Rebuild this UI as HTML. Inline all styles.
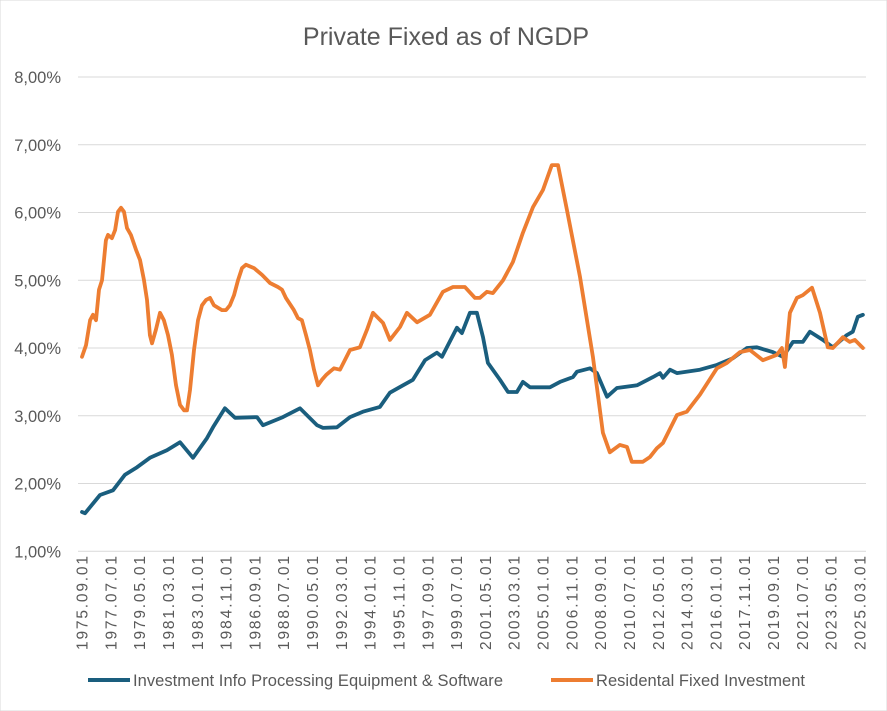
<!DOCTYPE html>
<html><head><meta charset="utf-8">
<style>
body{margin:0;background:#fff;}
svg{display:block;font-family:"Liberation Sans",sans-serif;}
</style></head>
<body>
<svg id="chart" width="887" height="711">
<rect x="0" y="0" width="887" height="711" fill="#fff" stroke="#d9d9d9"/>
<text x="446" y="45" text-anchor="middle" font-size="25" fill="#595959">Private Fixed as of  NGDP</text>
<g id="grid"></g><g id="yticks"></g><g id="xticks"></g><g id="series"></g>
<g>
<line x1="88" y1="680" x2="130" y2="680" stroke="#1a5e7e" stroke-width="4"/>
<text x="133" y="686" font-size="16.5" textLength="370" fill="#595959">Investment Info Processing Equipment &amp; Software</text>
<line x1="551" y1="680" x2="593" y2="680" stroke="#ed7d31" stroke-width="4"/>
<text x="596" y="686" font-size="16.5" textLength="209" fill="#595959">Residental Fixed Investment</text>
</g>
</svg>
<script>
const yTicks=[1,2,3,4,5,6,7,8];
const xTickLabels=["1975.09.01","1977.07.01","1979.05.01","1981.03.01","1983.01.01","1984.11.01","1986.09.01","1988.07.01","1990.05.01","1992.03.01","1994.01.01","1995.11.01","1997.09.01","1999.07.01","2001.05.01","2003.03.01","2005.01.01","2006.11.01","2008.09.01","2010.07.01","2012.05.01","2014.03.01","2016.01.01","2017.11.01","2019.09.01","2021.07.01","2023.05.01","2025.03.01"];
const resDates=[1975.67,1975.92,1976.18,1976.37,1976.56,1976.75,1976.94,1977.19,1977.32,1977.57,1977.77,1977.96,1978.15,1978.34,1978.53,1978.78,1979.10,1979.36,1979.61,1979.80,1979.99,1980.12,1980.37,1980.63,1980.88,1981.14,1981.39,1981.65,1981.90,1982.16,1982.35,1982.54,1982.79,1983.05,1983.30,1983.56,1983.81,1984.06,1984.57,1984.83,1985.08,1985.34,1985.59,1985.85,1986.10,1986.61,1987.12,1987.63,1988.13,1988.39,1988.64,1989.15,1989.41,1989.66,1989.92,1990.17,1990.43,1990.68,1990.93,1991.19,1991.44,1991.70,1992.08,1992.72,1993.35,1993.80,1994.18,1994.82,1995.26,1995.90,1996.34,1996.98,1997.80,1998.63,1999.27,2000.03,2000.67,2000.98,2001.43,2001.81,2002.45,2003.08,2003.72,2004.36,2004.99,2005.56,2005.95,2006.52,2007.35,2008.17,2008.81,2009.25,2009.89,2010.34,2010.65,2011.35,2011.80,2012.24,2012.63,2013.52,2014.15,2014.98,2016.06,2016.70,2017.53,2018.16,2018.99,2019.88,2020.20,2020.39,2020.71,2021.15,2021.53,2022.11,2022.62,2023.12,2023.44,2024.08,2024.52,2024.84,2025.35];
const resValues=[3.87,4.04,4.41,4.49,4.41,4.86,5.00,5.59,5.67,5.62,5.74,6.01,6.07,6.01,5.77,5.67,5.45,5.30,5.00,4.71,4.19,4.07,4.27,4.52,4.41,4.19,3.90,3.45,3.16,3.08,3.08,3.38,3.97,4.41,4.63,4.71,4.74,4.63,4.56,4.56,4.63,4.78,5.00,5.18,5.23,5.18,5.08,4.96,4.90,4.86,4.74,4.56,4.44,4.41,4.19,3.97,3.68,3.45,3.53,3.60,3.65,3.70,3.68,3.97,4.01,4.27,4.52,4.37,4.12,4.31,4.52,4.38,4.49,4.83,4.90,4.90,4.74,4.74,4.83,4.81,5.00,5.27,5.70,6.08,6.33,6.70,6.70,6.04,5.05,3.87,2.75,2.46,2.57,2.54,2.32,2.32,2.39,2.52,2.60,3.01,3.06,3.31,3.70,3.78,3.94,3.97,3.82,3.90,4.00,3.72,4.52,4.74,4.78,4.89,4.52,4.01,4.00,4.16,4.09,4.12,4.00];
const infoDates=[1975.67,1975.86,1976.81,1977.64,1978.40,1979.17,1979.99,1981.07,1981.90,1982.73,1983.62,1984.00,1984.76,1985.40,1986.80,1987.18,1988.45,1989.54,1990.62,1991.00,1991.89,1992.72,1993.54,1994.62,1995.26,1996.09,1996.72,1997.49,1998.25,1998.57,1999.52,1999.84,2000.35,2000.79,2001.18,2001.49,2002.26,2002.77,2003.34,2003.72,2004.17,2005.44,2006.08,2006.90,2007.16,2007.99,2008.43,2009.07,2009.70,2010.98,2011.99,2012.44,2012.63,2013.08,2013.52,2014.98,2016.06,2017.08,2017.97,2018.61,2019.62,2020.26,2020.90,2021.53,2021.98,2022.80,2023.44,2024.33,2024.71,2025.03,2025.35];
const infoValues=[1.58,1.56,1.83,1.90,2.13,2.24,2.38,2.49,2.61,2.38,2.67,2.83,3.11,2.97,2.98,2.86,2.98,3.11,2.86,2.82,2.83,2.98,3.06,3.13,3.34,3.45,3.53,3.82,3.93,3.87,4.30,4.22,4.52,4.52,4.16,3.78,3.53,3.35,3.35,3.50,3.42,3.42,3.50,3.57,3.65,3.70,3.63,3.28,3.41,3.45,3.57,3.63,3.56,3.68,3.63,3.68,3.75,3.85,4.00,4.01,3.94,3.87,4.09,4.09,4.24,4.12,4.01,4.19,4.24,4.46,4.49];

const X0=82,X1=860;
const xScale=d=>X0+(d-1975.667)*(X1-X0)/49.5;
const yScale=v=>77+(8-v)*67.75;
const NS="http://www.w3.org/2000/svg";
const mk=(t,a,p)=>{const e=document.createElementNS(NS,t);for(const k in a)e.setAttribute(k,a[k]);p.appendChild(e);return e;};
const grid=document.getElementById('grid'),yt=document.getElementById('yticks'),xt=document.getElementById('xticks'),ser=document.getElementById('series');
yTicks.forEach(v=>{
  const l=mk('line',{x1:78,x2:866,y1:yScale(v),y2:yScale(v),stroke:'#d9d9d9','stroke-width':1},grid);
  
  
  const t=mk('text',{x:61,y:yScale(v)+6,'text-anchor':'end','font-size':16.5,fill:'#595959'},yt);
  t.textContent=v.toFixed(2).replace('.',',')+'%';
  
  
});
xTickLabels.forEach((s,i)=>{
  const x=X0+i*(X1-X0)/(xTickLabels.length-1);
  const t=mk('text',{x:0,y:0,'text-anchor':'end','font-size':15.5,textLength:94,fill:'#595959',transform:`translate(${x+5.5},556) rotate(-90)`},xt);
  t.textContent=s;
  
  
});
function draw(d,v,c,name){
  const pts=d.map((dd,i)=>xScale(dd).toFixed(1)+','+yScale(v[i]).toFixed(1)).join(' ');
  const p=mk('polyline',{points:pts,fill:'none',stroke:c,'stroke-width':3.8,'stroke-linejoin':'round','stroke-linecap':'round'},ser);
  
  
}
draw(infoDates,infoValues,'#1a5e7e','line-info-processing');
draw(resDates,resValues,'#ed7d31','line-residential');
</script>
</body></html>
